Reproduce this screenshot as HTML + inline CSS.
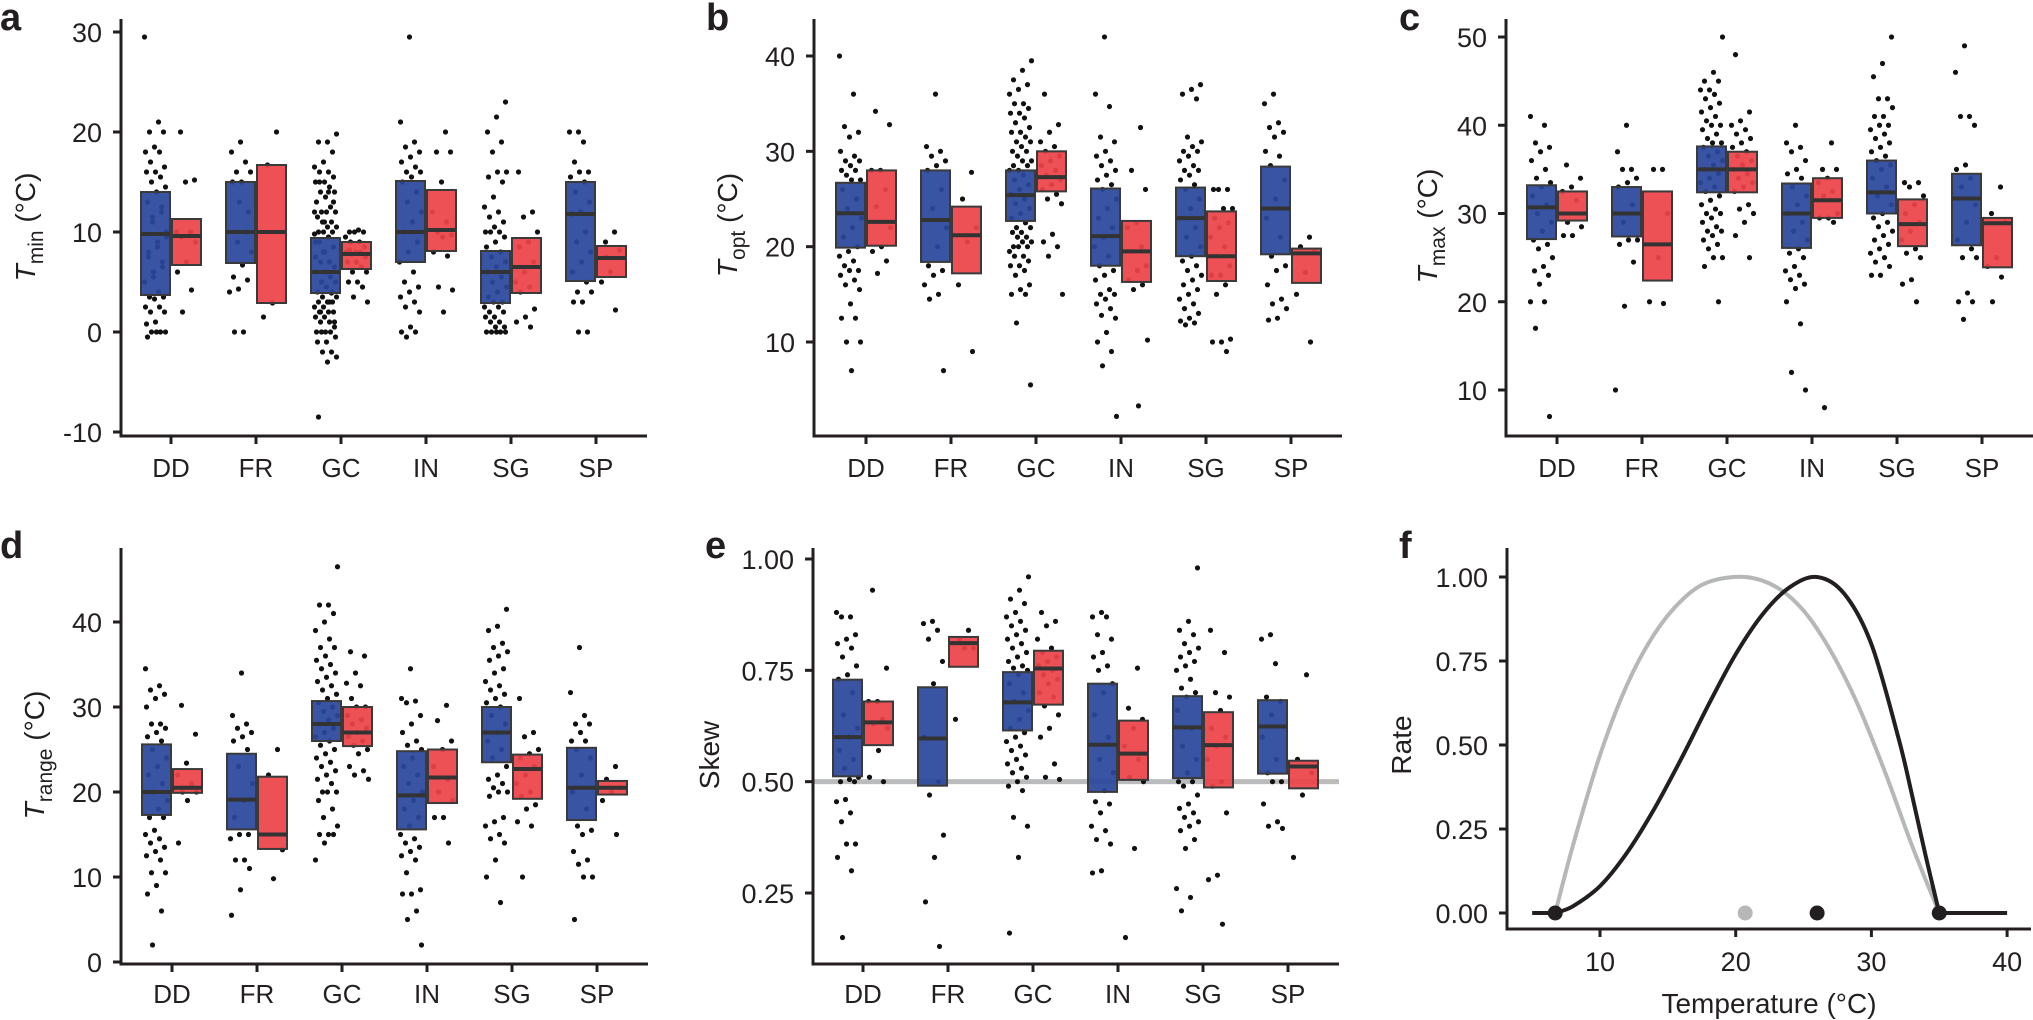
<!DOCTYPE html>
<html><head><meta charset="utf-8"><style>
html,body{margin:0;padding:0;background:#fff;}
svg{display:block;font-family:"Liberation Sans",sans-serif;}
</style></head><body>
<svg id="fig" width="2033" height="1020" viewBox="0 0 2033 1020" xmlns="http://www.w3.org/2000/svg"></svg>
<script>
const categories=["DD","FR","GC","IN","SG","SP"];
// box stats [q1, median, q3]
const tminBlueBox=[[3.7,9.8,14],[6.9,10,15],[3.9,6,9.4],[7,10,15.1],[2.9,6,8.1],[5.1,11.8,15]];
const tminRedBox=[[6.7,9.6,11.3],[2.9,10,16.7],[6.3,7.8,9],[8.1,10.2,14.2],[3.9,6.5,9.4],[5.5,7.4,8.6]];
const toptBlueBox=[[19.9,23.5,26.7],[18.4,22.8,28],[22.7,25.4,28],[18,21.1,26.1],[19,23,26.2],[19.2,24,28.4]];
const toptRedBox=[[20.1,22.6,28],[17.2,21.2,24.2],[25.8,27.3,30],[16.3,19.5,22.7],[16.4,19,23.7],[16.2,19.3,19.8]];
const tmaxBlueBox=[[27.1,30.7,33.2],[27.4,30,33],[32.4,35,37.6],[26.1,30,33.4],[30,32.4,36],[26.4,31.7,34.5]];
const tmaxRedBox=[[29.2,30,32.5],[22.4,26.5,32.5],[32.4,35,37],[29.5,31.5,34],[26.3,28.8,31.6],[23.9,28.9,29.5]];
const trangeBlueBox=[[17.3,20,25.6],[15.6,19.1,24.5],[26,28,30.7],[15.6,19.6,24.8],[23.5,27,30],[16.7,20.5,25.2]];
const trangeRedBox=[[19.9,20.5,22.7],[13.3,15,21.8],[25.4,27,30],[18.7,21.7,25],[19.2,22.7,24.4],[19.7,20.5,21.3]];
const skewBlueBox=[[0.512,0.6,0.729],[0.491,0.597,0.712],[0.615,0.678,0.746],[0.477,0.583,0.72],[0.508,0.622,0.692],[0.518,0.624,0.683]];
const skewRedBox=[[0.582,0.633,0.68],[0.758,0.811,0.825],[0.673,0.754,0.794],[0.504,0.563,0.637],[0.487,0.582,0.656],[0.485,0.534,0.547]];
// raw points per category
const tminBluePts=[[29.5,21,20,20,18.5,18,18,17,16.5,16,16,15.5,15,14.5,14,13,12,11,10,9,8,7,6,5,4,3.5,3.5,3.3,2.5,2.5,2,2,1,0.8,0,0,0,0,-0.5,12.5,11.5,9.5,8.5,7.5,6.5,5.5],[19,18,17,16,16,15,15,10,9,8,6.7,5.5,5.2,4.3,4,0,0,12,13],[19.8,19,19,18,17,16.5,16,16,15.5,15,15,14.5,14,14,13.5,13,12.5,12,12,12,11.5,11,11,10.5,10.5,10,10,10,9.8,9.5,9,8.5,8,7.5,7,7,6.5,6,6,5.5,5,5,4.5,4,3.9,3.5,3.5,3,3,3,2.5,2.5,2,2,2,1.5,1.5,1,1,0.5,0,0,0,0,-0.5,-1,-1,-2,-2,-2.5,-3,-8.5,4,8,12,14,15,13,11,9,3,2,1],[29.5,21,19,18.5,18,17.5,17,16.5,16,16,15.5,15,14,13,12,11,10,9,8,7,6,5,4.5,4,3.5,3,2.5,2,0.5,0,0,-0.5],[23,21.5,20,19,18,16,16,15.5,15,13.5,12.5,12,11.5,11,10.5,10,10,10,9.5,9,8.5,8,7.5,7,6.5,6,5.5,5,4.5,4,3.5,3,3,2.5,2.5,2,2,1.5,1.5,1,1,0.5,0.5,0,0,0,0,0],[20,20,19,17,16,16,15.5,15,14,13,12,11.8,10,9,8,7,6,5,4,4,3,3,0,0]];
const tminRedPts=[[20,15.2,15,10,10,9.5,9,7,6,4.2,2],[20,16.7,10,2.9,1.5],[10,10,10,9.5,9,9,8.5,8,8,8,7.8,7.5,7,7,6.5,6,6,5,5,4.5,3.5,3,10.2,8.2],[20,18,18,15,12,11,10,9.7,9.5,8,7.6,4.5,4.2,2],[16,12,11.5,10,9,8.5,7,6,5,4.5,4,2.3,1.5,1,0.5],[10,9,8.2,6,5,2.2,7.5]];
const toptBluePts=[[40,36,32.6,32,31.5,30,29.5,29,29,28.5,28,28,27.5,27,27,26,25,24,23,22,21,20,19.5,19,18.5,18,17.5,17.5,17,16.5,16,15.5,14,12.5,12.5,10,10,7],[36,30.5,30,29.5,29,28.5,28,26,24,22,20,18,17.5,17,16,15,14.5,7],[39.5,38.5,37.5,37,36.5,36,35,35,34.5,34,34,33.5,33,32.5,32,32,31.5,31,31,30.5,30,30,29.5,29,29,28.5,28.5,28,28,27.5,27,26.5,26,25.5,25,24.5,24,23.5,23,22.5,22,22,21.5,21.5,21,21,20.5,20.5,20,20,20,19.5,19,19,18.5,18,18,17.5,17,16,15.5,15,15,12,5.5],[42,36,34.7,31.5,31,30,29.5,29,28.5,28,27.5,27,26.5,26,25,24,23,22,21,20,19,18,17.5,17,16.5,15.5,15,15,14.5,14,13.5,12.8,12.5,11,10,9,7.5,2.2],[37,36.5,36,35.5,31.5,31,30.5,30,30,29.5,29,28.5,28,28,27.5,27,26.5,26,25,24,23,22,21,20,19,18.5,18,17.5,17,16.5,16,15.5,15,14.5,14,13.5,13,12.5,12.2,12,11.8],[36,35,33,32.5,32,31.5,30,29.5,28.5,27,25,23,21,19,18,17.5,16,14.5,14,13.5,12.5,12.3]];
const toptRedPts=[[34.2,32.8,28,28,26,24.2,22,20,19.5,18.5,17.2],[27.8,25,22,20.5,16,9],[36,32.8,32,31,30.5,30,29.5,29,28.5,28,27.5,27,26.5,26,25.5,25,24.5,21.3,20.5,20,19,15],[32.5,28,26,22.5,22,20,19.5,18,17.5,16.5,16,15.5,10.2,3.3],[26,26,26,24,24,23,22.5,22,21,20,19,18,17,17,16,15,10.3,10,10,9],[21,20,19.5,17.3,15,10]];
const tmaxBluePts=[[41,40,38,37.5,37,36,35,34,33.5,33,32,31,30,29,28,27,26.5,26,25,24,23.5,23,22,20,20,17,7],[40,37,35,35,34,33.5,33,31,29,27,27,26.5,24.5,19.5,10],[50,46,45,45,44,44,43.5,43,42.5,42,41.5,41,40.5,40,40,39.5,39,38.5,38,38,37.5,37,36.5,36,35.5,35,34.5,34,33.5,33,32.5,32,31.5,31,30.5,30,30,29.5,29,28.5,28,28,27.5,27,26.5,26,25,25,24,20],[40,38,37.5,37,36,35,34.5,34,33,32,31,30,29,28,27,26,25.5,25,24,23.5,23,22.5,22,21.5,20,17.5,12,10],[50,47,45.5,43,43,42,41,41,40,40,39.5,39,38.5,38,37.5,37,36.5,36,35.5,35,34,33,32,31,30,29.5,29,28.5,28,27.5,27,26.5,26,25.5,25,24.5,24,23,23],[49,46,41,41,40,35.5,35,34,33,31,29,27,26,25,25,21,20,20,18]];
const tmaxRedPts=[[35.5,34,33,32.5,31.5,29,28.5,27.5,27.5],[35,35,30,25,20,19.8],[48,41.5,40.5,40,39.5,39,38.5,38,37.5,37,36.5,36,35.5,35,34.5,34,33.5,33,32.5,31,30.5,30,29,27.5,25],[38,35,35,34,33.5,32.5,32,30,29.5,29.5,29,8],[33.5,33.5,33,32,31,30,29,28,27,26,25.5,25,22.5,22,20],[33,30,29,25,24,22.8,20]];
const trangeBluePts=[[34.5,32.5,32,31.5,31,30,28,28,27.5,27,26.5,26,25,24,23,22,21,20,19,18,17,17,15.5,15,14.5,14,13.5,13,12.5,12,10.5,10.5,9,8,6,2],[34,29,28,27.5,27,26.5,26,25,23,21,19,17,15,15,14.5,12,12,11,8.5,5.5],[46.5,42,42,41,40,39,38,37,37,36,35.5,35,34.5,34,33.5,33,32.5,32,31.5,31,30.5,30,29.5,29,28.5,28,27.5,27,26.5,26,25.5,25,24.5,24,23.5,23,22.5,22,21.5,21,20,20,20,19,18,17,16,15,15,15,14,12],[34.5,31,30.7,30.5,29,28,27,26,25.5,25,24,23,22,21,20,19,18,17,16,15,14.5,14,13.5,13,12.5,12,10.5,8.5,8,8,6,5,2],[41.5,39.5,39,37.5,37,36.5,36,35.5,34.5,34,33,32.5,32,31.5,31,30.5,30,29,28,27,26,25,24,23,22,21.5,21,20.5,20,20,19.5,17,16.5,16,15,14.5,14,12,10,7],[37,31.7,29,28,28,27,26,26,25,24,22,20,18,16,15.5,15,13,12,11.5,10,10,5]];
const trangeRedPts=[[30.2,26.8,23.4,22,21,20,20,19,14],[25,22,13.2,9.8],[36.5,36,34,32.8,32.5,31,30,30,29,28.5,28,27.5,27,26.5,26,25.5,25,24.5,23,22.5,22,21.5],[30.2,28.4,26,25,23,21.5,20,19,17,17,14],[31,27,26.5,25,24.5,24,23,22,21,20,19.5,18.5,18,16.5,16,10],[23,21.5,20.5,20,19,15]];
const skewBluePts=[[0.88,0.87,0.87,0.83,0.82,0.81,0.8,0.78,0.76,0.74,0.73,0.7,0.65,0.62,0.6,0.57,0.55,0.53,0.51,0.505,0.5,0.5,0.46,0.455,0.43,0.41,0.36,0.36,0.33,0.3,0.15],[0.86,0.855,0.84,0.82,0.77,0.72,0.6,0.5,0.47,0.38,0.33,0.23,0.13],[0.96,0.93,0.91,0.9,0.88,0.87,0.86,0.85,0.84,0.83,0.82,0.81,0.8,0.79,0.78,0.77,0.76,0.755,0.75,0.74,0.72,0.7,0.68,0.66,0.64,0.62,0.61,0.6,0.59,0.58,0.57,0.56,0.55,0.54,0.53,0.52,0.51,0.5,0.49,0.48,0.42,0.4,0.33,0.16],[0.88,0.87,0.87,0.83,0.82,0.79,0.78,0.76,0.75,0.72,0.7,0.65,0.6,0.55,0.52,0.48,0.455,0.45,0.43,0.4,0.39,0.37,0.36,0.3,0.295],[0.98,0.86,0.84,0.83,0.81,0.8,0.79,0.78,0.77,0.76,0.75,0.73,0.71,0.7,0.69,0.66,0.62,0.58,0.55,0.52,0.5,0.5,0.49,0.47,0.45,0.44,0.43,0.42,0.41,0.4,0.39,0.37,0.35,0.26,0.24,0.21],[0.83,0.82,0.765,0.69,0.68,0.65,0.6,0.55,0.52,0.5,0.5,0.45,0.41,0.4,0.395]];
const skewRedPts=[[0.93,0.755,0.68,0.68,0.64,0.63,0.62,0.57,0.51,0.5],[0.84,0.82,0.8,0.8,0.64],[0.88,0.86,0.85,0.82,0.8,0.79,0.78,0.77,0.76,0.75,0.74,0.73,0.72,0.7,0.69,0.67,0.65,0.62,0.6,0.54,0.51,0.505],[0.755,0.665,0.64,0.62,0.58,0.55,0.51,0.5,0.35,0.15],[0.84,0.79,0.7,0.69,0.66,0.62,0.6,0.58,0.55,0.5,0.49,0.43,0.29,0.28,0.18],[0.74,0.55,0.52,0.47,0.33]];
const tminTicks=[-10,0,10,20,30];
const toptTicks=[10,20,30,40];
const tmaxTicks=[10,20,30,40,50];
const trangeTicks=[0,10,20,30,40];
const skewTicks=[0.25,0.5,0.75,1.0];
const skewTickLabels=["0.25","0.50","0.75","1.00"];
const skewRef=0.5;
// panel f
const tempTicks=[10,20,30,40];
const rateTicks=[0,0.25,0.5,0.75,1.0];
const rateTickLabels=["0.00","0.25","0.50","0.75","1.00"];
const curveBlackT=[6.7,8,10,12,14,16,18,20,22,24,26,28,30,32,33,34,35];
const curveBlackR=[0,0.02,0.08,0.18,0.31,0.46,0.62,0.77,0.89,0.97,1.0,0.95,0.8,0.52,0.35,0.17,0];
const curveGreyT=[6.7,8,10,12,14,16,18,20.7,23,25,27,29,31,33,35];
const curveGreyR=[0,0.2,0.47,0.68,0.83,0.93,0.985,1.0,0.97,0.9,0.78,0.62,0.42,0.2,0];
const flatSegments=[[5,6.7],[35,40]];
const blackDotsT=[6.7,26,35];
const greyDotsT=[20.7];

const NS="http://www.w3.org/2000/svg";
const svg=document.getElementById('fig');
function mk(tag,attrs,parent,text){const e=document.createElementNS(NS,tag);for(const k in attrs)e.setAttribute(k,attrs[k]);if(text!==undefined)e.textContent=text;(parent||svg).appendChild(e);return e;}
const INK="#231f20";

function boxPanel(cfg){
  const g=mk('g',{},svg);
  
  
  const y=v=>cfg.y0+(v-cfg.v0)*(cfg.y1-cfg.y0)/(cfg.v1-cfg.v0);
  const cx=i=>cfg.cat0+i*85;
  const right=cx(5)+51;
  // panel letter
  const L=mk('text',{x:cfg.letterX,y:cfg.letterY,'font-size':38,'font-weight':'bold',fill:INK},g,cfg.letter);
  
  
  // reference line
  if(cfg.ref!==undefined){const r=mk('line',{x1:cfg.ax,x2:right,y1:y(cfg.ref),y2:y(cfg.ref),stroke:'#b9bbbd','stroke-width':5},g);
    }
  // axes
  const ya=mk('line',{x1:cfg.ax,x2:cfg.ax,y1:cfg.top,y2:cfg.bottom,stroke:INK,'stroke-width':3},g);
  
  const xa=mk('line',{x1:cfg.ax-1.5,x2:right,y1:cfg.bottom,y2:cfg.bottom,stroke:INK,'stroke-width':3},g);
  
  cfg.ticks.forEach((t,i)=>{
    mk('line',{x1:cfg.ax-8,x2:cfg.ax,y1:y(t),y2:y(t),stroke:INK,'stroke-width':3},g);
    const tl=mk('text',{x:cfg.ax-19,y:y(t)+10,'font-size':27,'text-anchor':'end',fill:INK},g,cfg.tickLabels?cfg.tickLabels[i]:String(t));
    
  });
  categories.forEach((c,i)=>{
    mk('line',{x1:cx(i),x2:cx(i),y1:cfg.bottom,y2:cfg.bottom+8,stroke:INK,'stroke-width':3},g);
    const cl=mk('text',{x:cx(i),y:cfg.catY,'font-size':26,'text-anchor':'middle',fill:INK},g,c);
    
  });
  // title
  const tt=mk('text',{transform:`translate(${cfg.ax+cfg.titleDX},${cfg.titleY}) rotate(-90)`,'font-size':28,'text-anchor':'middle',fill:INK},g);
  
  if(cfg.sub){mk('tspan',{'font-style':'italic'},tt,'T');mk('tspan',{'font-size':21,dy:8},tt,cfg.sub);mk('tspan',{dy:-8},tt,' (°C)');}
  else tt.textContent=cfg.title;
  // points then boxes
  [[cfg.bluePts,-15.5],[cfg.redPts,15.5]].forEach(([pts,off],s)=>{
    pts.forEach((arr,i)=>{arr.forEach((v,j)=>{
      const jit=(((j*37+i*11+s*5)%23)-11)*1.0;
      const p=mk('circle',{cx:cx(i)+off+jit,cy:y(v),r:2.6,fill:'#111'},g);
      
    });});
  });
  [[cfg.blueBox,-30,'#2a479c','blue'],[cfg.redBox,1,'#ec4348','red']].forEach(([bx,x0,col,nm])=>{
    bx.forEach((b,i)=>{
      const r=mk('rect',{x:cx(i)+x0,y:y(b[2]),width:29,height:y(b[0])-y(b[2]),fill:col,'fill-opacity':0.93,stroke:'#3a3a3a','stroke-width':2},g);
      
      const m=mk('line',{x1:cx(i)+x0,x2:cx(i)+x0+29,y1:y(b[1]),y2:y(b[1]),stroke:'#333','stroke-width':4},g);
      
    });
  });
}
boxPanel({name:'panel-a-tmin',letter:'a',letterX:0,letterY:30,ax:121,cat0:171,top:19,bottom:436,catY:477,y0:332,v0:0,y1:32,v1:30,ticks:tminTicks,sub:'min',titleDX:-86,titleY:227,bluePts:tminBluePts,redPts:tminRedPts,blueBox:tminBlueBox,redBox:tminRedBox});
boxPanel({name:'panel-b-topt',letter:'b',letterX:706,letterY:30,ax:814,cat0:866,top:19,bottom:436,catY:477,y0:56,v0:40,y1:342,v1:10,ticks:toptTicks,sub:'opt',titleDX:-77,titleY:225,bluePts:toptBluePts,redPts:toptRedPts,blueBox:toptBlueBox,redBox:toptRedBox});
boxPanel({name:'panel-c-tmax',letter:'c',letterX:1399,letterY:30,ax:1506,cat0:1557,top:19,bottom:436,catY:477,y0:37,v0:50,y1:390,v1:10,ticks:tmaxTicks,sub:'max',titleDX:-69,titleY:226,bluePts:tmaxBluePts,redPts:tmaxRedPts,blueBox:tmaxBlueBox,redBox:tmaxRedBox});
boxPanel({name:'panel-d-trange',letter:'d',letterX:0,letterY:558,ax:121,cat0:172,top:548,bottom:964,catY:1003,y0:962,v0:0,y1:622,v1:40,ticks:trangeTicks,sub:'range',titleDX:-77,titleY:755,bluePts:trangeBluePts,redPts:trangeRedPts,blueBox:trangeBlueBox,redBox:trangeRedBox});
boxPanel({name:'panel-e-skew',letter:'e',letterX:705,letterY:558,ax:813,cat0:863,top:548,bottom:964,catY:1003,y0:559,v0:1,y1:893,v1:0.25,ticks:skewTicks,tickLabels:skewTickLabels,title:'Skew',titleDX:-94,titleY:755,ref:skewRef,bluePts:skewBluePts,redPts:skewRedPts,blueBox:skewBlueBox,redBox:skewRedBox});

// panel f
(function(){
  const g=mk('g',{},svg);
  
  
  const ax=1507,bottom=929;
  const x=t=>1600+(t-10)*13.57;
  const y=v=>913-v*336;
  const L=mk('text',{x:1399,y:558,'font-size':38,'font-weight':'bold',fill:INK},g,'f');
  
  const ya=mk('line',{x1:ax,x2:ax,y1:548,y2:bottom,stroke:INK,'stroke-width':3},g);
  
  const xa=mk('line',{x1:ax-1.5,x2:2031,y1:bottom,y2:bottom,stroke:INK,'stroke-width':3},g);
  
  rateTicks.forEach((t,i)=>{mk('line',{x1:ax-8,x2:ax,y1:y(t),y2:y(t),stroke:INK,'stroke-width':3},g);
    const tl=mk('text',{x:ax-19,y:y(t)+10,'font-size':27,'text-anchor':'end',fill:INK},g,rateTickLabels[i]);
    });
  tempTicks.forEach(t=>{mk('line',{x1:x(t),x2:x(t),y1:bottom,y2:bottom+8,stroke:INK,'stroke-width':3},g);
    const tl=mk('text',{x:x(t),y:971,'font-size':27,'text-anchor':'middle',fill:INK},g,String(t));
    });
  const yt=mk('text',{transform:`translate(${ax-96},745) rotate(-90)`,'font-size':28,'text-anchor':'middle',fill:INK},g,'Rate');
  
  const xt=mk('text',{x:1769,y:1013,'font-size':28,'text-anchor':'middle',fill:INK},g,'Temperature (°C)');
  
  function smooth(T,R){const P=T.map((t,i)=>[x(t),y(R[i])]);let d=`M${P[0][0]},${P[0][1]}`;
    for(let i=0;i<P.length-1;i++){const p0=P[Math.max(0,i-1)],p1=P[i],p2=P[i+1],p3=P[Math.min(P.length-1,i+2)];
      const c1=[p1[0]+(p2[0]-p0[0])/6,p1[1]+(p2[1]-p0[1])/6],c2=[p2[0]-(p3[0]-p1[0])/6,p2[1]-(p3[1]-p1[1])/6];
      d+=` C${c1[0]},${c1[1]} ${c2[0]},${c2[1]} ${p2[0]},${p2[1]}`;}return d;}
  const gc=mk('path',{d:smooth(curveGreyT,curveGreyR),fill:'none',stroke:'#b5b7b9','stroke-width':4},g);
  
  flatSegments.forEach(s=>{const f=mk('line',{x1:x(s[0]),x2:x(s[1]),y1:y(0),y2:y(0),stroke:INK,'stroke-width':4},g);
    });
  const bc=mk('path',{d:smooth(curveBlackT,curveBlackR),fill:'none',stroke:INK,'stroke-width':4},g);
  
  greyDotsT.forEach(t=>{const c=mk('ellipse',{cx:x(t),cy:y(0),rx:7.5,ry:7.5,fill:'#b5b7b9'},g);
    });
  blackDotsT.forEach(t=>{const c=mk('ellipse',{cx:x(t),cy:y(0),rx:7.5,ry:7.5,fill:INK},g);
    });
})();
</script>
</body></html>
